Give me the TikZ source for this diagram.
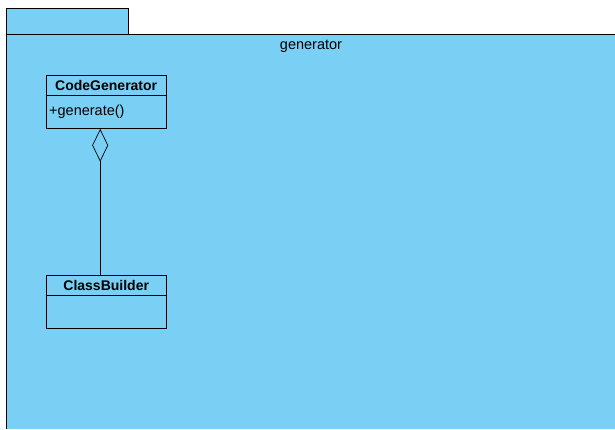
\documentclass[tikz,border=0pt]{standalone}
\usepackage{fontspec}
\setmainfont{Liberation Sans}
\usetikzlibrary{arrows.meta,positioning}
\definecolor{pkgblue}{HTML}{7ACFF4}
\begin{document}
\begin{tikzpicture}[
    x=1pt,y=-1pt,
    pkg/.style={draw=black,fill=pkgblue,line width=0.9pt,inner sep=0pt},
    head/.style={draw=black,fill=pkgblue,minimum width=120pt,minimum height=20pt,
      inner sep=1pt,font=\fontsize{14}{16}\selectfont\bfseries},
    body/.style={draw=black,fill=pkgblue,minimum width=120pt,minimum height=33pt,
      inner xsep=3pt,inner ysep=0pt,align=left,text width=114pt,
      font=\fontsize{14.5}{16}\selectfont},
    aggr/.style={-{Diamond[open,length=33pt,width=16pt]},line width=0.7pt}]
 \useasboundingbox (0,0) rectangle (615,429);
 \fill[white] (0,0) rectangle (615,429);
 % package with its tab
 \draw[pkg] (6,34) rectangle (128,8);
 \fill[pkgblue] (6,34) rectangle (615,429);
 \draw[line width=0.9pt] (6,429) -- (6,34) -- (615,34);
 \node[font=\fontsize{14.5}{16}\selectfont] (pkgname) at (311,46) {generator};
 % classes
 \node[head,anchor=north west] (gen) at (46,75) {CodeGenerator};
 \node[body,below=0pt of gen] (genops) {\raisebox{2pt}{+generate()}};
 \node[head,anchor=north west] (builder) at (46,275) {ClassBuilder};
 \node[body,below=0pt of builder] (builderops) {};
 % aggregation
 \draw[aggr] ([xshift=-6pt]builder.north) -- ([xshift=-6pt]genops.south);
\end{tikzpicture}
\end{document}
